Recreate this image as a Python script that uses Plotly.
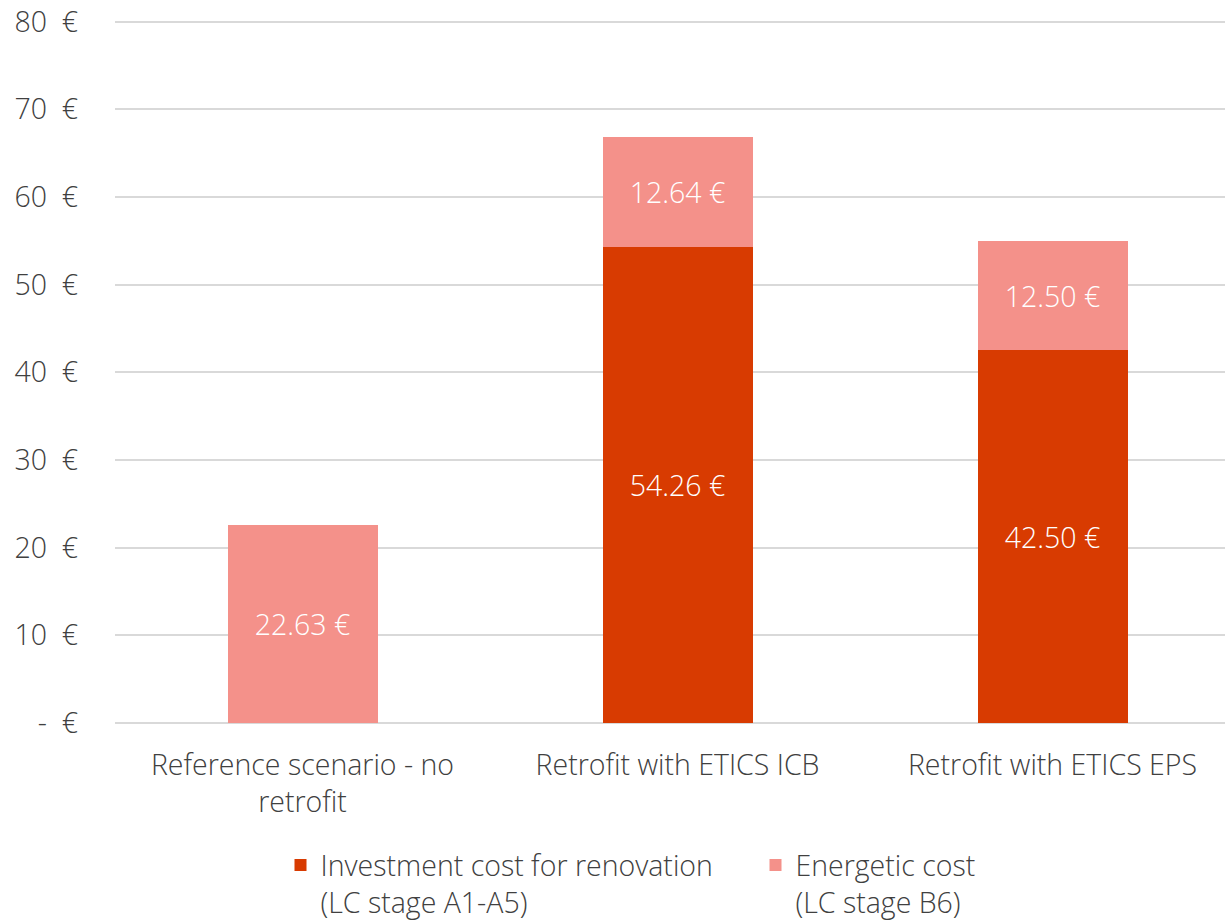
import plotly.graph_objects as go

# Life-cycle cost per scenario (€)
categories = ["Reference scenario - no<br>retrofit", "Retrofit with ETICS ICB", "Retrofit with ETICS EPS"]
investment_cost = [None, 54.26, 42.50]
energetic_cost = [22.63, 12.64, 12.50]

tick_values = [0, 10, 20, 30, 40, 50, 60, 70, 80]
tick_labels = ["-  €", "10  €", "20  €", "30  €", "40  €", "50  €", "60  €", "70  €", "80  €"]

FONT = "Open Sans"
DARK = "#D83B01"
LIGHT = "#F4918A"
TEXT = "#404040"
SIZE = 28.5


def euro_labels(values):
    return ["" if v is None else f"{v:.2f} €" for v in values]


fig = go.Figure()
fig.add_trace(go.Bar(
    x=categories, y=investment_cost,
    name="Investment cost for renovation<br>(LC stage A1-A5)",
    marker=dict(color=DARK, line=dict(width=0)),
    text=euro_labels(investment_cost), textposition="inside",
    insidetextanchor="middle",
    textfont=dict(color="white", size=SIZE, family=FONT, weight=300),
    hoverinfo="skip",
))
fig.add_trace(go.Bar(
    x=categories, y=energetic_cost,
    name="Energetic cost<br>(LC stage B6)",
    marker=dict(color=LIGHT, line=dict(width=0)),
    text=euro_labels(energetic_cost), textposition="inside",
    insidetextanchor="middle",
    textfont=dict(color="white", size=SIZE, family=FONT, weight=300),
    hoverinfo="skip",
))

fig.update_layout(
    barmode="stack",
    bargap=0.6,
    width=1225, height=922,
    margin=dict(l=115, r=0, t=20, b=199, autoexpand=False),
    paper_bgcolor="white", plot_bgcolor="white",
    font=dict(family=FONT, size=SIZE, color=TEXT, weight=300),
    showlegend=True,
    legend=dict(
        orientation="h", traceorder="normal",
        x=0.5 + 143 / 1225, xref="container", xanchor="center",
        y=(922 - 840) / 922, yref="container", yanchor="top",
        valign="top", entrywidth=430,
        font=dict(size=SIZE, color=TEXT, family=FONT, weight=300),
        itemclick=False, itemdoubleclick=False,
    ),
    uniformtext=dict(minsize=SIZE, mode="show"),
)
fig.update_xaxes(
    range=[-0.5, 2.46],
    showgrid=False, showline=False, ticks="",
    tickfont=dict(size=SIZE, color=TEXT),
    ticklabelstandoff=22,
)
fig.update_yaxes(
    range=[0, 80.2], tickvals=tick_values, ticktext=tick_labels,
    showgrid=True, gridcolor="#D9D9D9", gridwidth=1.5,
    zeroline=True, zerolinecolor="#D9D9D9", zerolinewidth=1.5,
    showline=False, ticks="",
    tickfont=dict(size=SIZE, color=TEXT),
    ticklabelstandoff=36,
)

fig.write_html("out.html")
